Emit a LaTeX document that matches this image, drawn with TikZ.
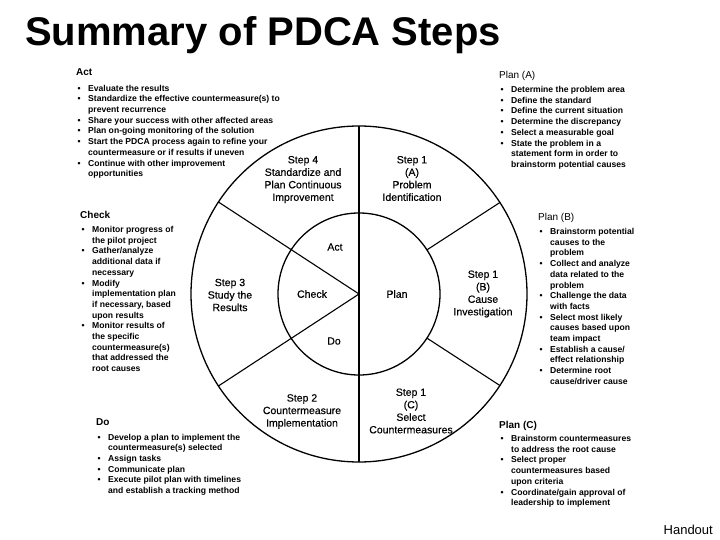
\documentclass[tikz,border=0pt]{standalone}
\usepackage{fontspec}
\setmainfont{Liberation Sans}
\newfontfamily\medfont{Liberation Sans}[FakeBold=0.3]
\newcommand\bl{\makebox[12pt][l]{\hspace{1.5pt}•}}
\newcommand\ct{\hspace*{12pt}}
\begin{document}
\begin{tikzpicture}[x=1pt,y=-1pt,
  ring/.style={line width=1.3pt},
  spoke/.style={line width=1.1pt},
  blk/.style={anchor=north west,inner sep=0pt,align=left,font=\fontsize{8.6}{10.7}\selectfont\bfseries},
  lab/.style={inner sep=0pt,align=center,font=\fontsize{10.5}{12.5}\medfont}]
\useasboundingbox (0,0) rectangle (720,540);
\fill[white] (0,0) rectangle (720,540);
% title
\node[anchor=base west,inner sep=0pt,font=\fontsize{40}{42}\selectfont\bfseries] (title) at (25,46) {Summary of PDCA Steps};
\node[anchor=base east,inner sep=0pt,font=\fontsize{13}{15}\selectfont] (handout) at (713,534) {Handout};
% wheel
\coordinate (c) at (359,294);
\draw[ring] (c) circle[radius=168pt];
\draw[ring] (c) circle[radius=81pt];
\coordinate (top) at ([shift={(90:168pt)}]c);
\coordinate (bot) at ([shift={(-90:168pt)}]c);
\coordinate (ul) at ([shift={(146.8:168pt)}]c);
\coordinate (ll) at ([shift={(213.2:168pt)}]c);
\coordinate (uri) at ([shift={(33:81pt)}]c);
\coordinate (uro) at ([shift={(33:168pt)}]c);
\coordinate (lri) at ([shift={(-33:81pt)}]c);
\coordinate (lro) at ([shift={(-33:168pt)}]c);
\draw[spoke] (top) -- (bot);
\draw[spoke] (ul) -- (c) -- (ll);
\draw[spoke] (uri) -- (uro);
\draw[spoke] (lri) -- (lro);
% wheel labels
\node[lab] (s4) at (303,179.5) {Step 4\\Standardize and\\Plan Continuous\\Improvement};
\node[lab] (s1a) at (412,178.5) {Step 1\\(A)\\Problem\\Identification};
\node[lab] (s3) at (230,295) {Step 3\\Study the\\Results};
\node[lab] (s1b) at (483,294) {Step 1\\(B)\\Cause\\Investigation};
\node[lab] (s2) at (302,411.5) {Step  2\\Countermeasure\\Implementation};
\node[lab] (s1c) at (411,411) {Step 1\\(C)\\Select\\Countermeasures};
\node[lab] (act) at (335,247) {Act};
\node[lab] (check) at (312,294) {Check};
\node[lab] (do) at (334,341) {Do};
\node[lab] (plan) at (397,294) {Plan};
% text blocks
\node[blk] (actblk) at (76,68.4) {{\fontsize{10}{12}\selectfont Act}\\[5pt]
\bl Evaluate the results\\
\bl Standardize the effective countermeasure(s) to\\
\ct prevent recurrence\\
\bl Share your success with other affected areas\\
\bl Plan on-going monitoring of the solution\\
\bl Start the PDCA process again to refine your\\
\ct countermeasure or if results if uneven\\
\bl Continue with other improvement\\
\ct opportunities};
\node[blk] (planablk) at (499,71.4) {{\fontsize{10}{12}\mdseries\selectfont Plan (A)}\\[3pt]
\bl Determine the problem area\\
\bl Define the standard\\
\bl Define the current situation\\
\bl Determine the discrepancy\\
\bl Select a measurable goal\\
\bl State the problem in a\\
\ct statement form in order to\\
\ct brainstorm potential causes};
\node[blk] (checkblk) at (80,211.4) {{\fontsize{10}{12}\selectfont Check}\\[3pt]
\bl Monitor progress of\\
\ct the pilot project\\
\bl Gather/analyze\\
\ct additional data if\\
\ct necessary\\
\bl Modify\\
\ct implementation plan\\
\ct if necessary, based\\
\ct upon results\\
\bl Monitor results of\\
\ct the specific\\
\ct countermeasure(s)\\
\ct that addressed the\\
\ct root causes};
\node[blk] (planbblk) at (538,213.4) {{\fontsize{10}{12}\mdseries\selectfont Plan (B)}\\[3pt]
\bl Brainstorm potential\\
\ct causes to the\\
\ct problem\\
\bl Collect and analyze\\
\ct data related to the\\
\ct problem\\
\bl Challenge the data\\
\ct with facts\\
\bl Select most likely\\
\ct causes based upon\\
\ct team impact\\
\bl Establish a cause/\\
\ct effect relationship\\
\bl Determine root\\
\ct cause/driver cause};
\node[blk] (doblk) at (96,418.4) {{\fontsize{10}{12}\selectfont Do}\\[4pt]
\bl Develop a plan to implement the\\
\ct countermeasure(s) selected\\
\bl Assign tasks\\
\bl Communicate plan\\
\bl Execute pilot plan with timelines\\
\ct and establish a tracking method};
\node[blk] (plancblk) at (499,421.4) {{\fontsize{10}{12}\selectfont Plan (C)}\\[2pt]
\bl Brainstorm countermeasures\\
\ct to address the root cause\\
\bl Select proper\\
\ct countermeasures based\\
\ct upon criteria\\
\bl Coordinate/gain approval of\\
\ct leadership to implement};
\end{tikzpicture}
\end{document}
